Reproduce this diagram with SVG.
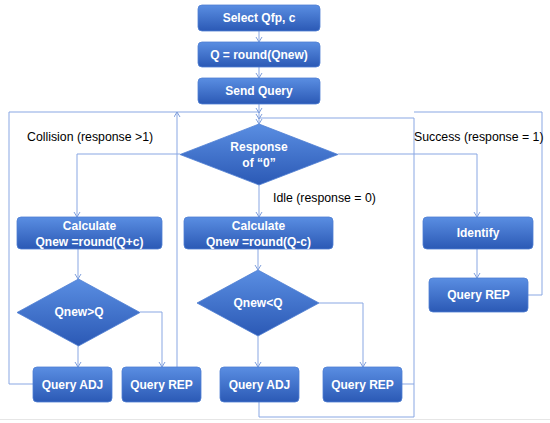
<svg xmlns="http://www.w3.org/2000/svg" width="550" height="423" viewBox="0 0 550 423">
<defs>
<linearGradient id="g" x1="0" y1="0" x2="0" y2="1">
<stop offset="0" stop-color="#5a8ee2"/>
<stop offset="1" stop-color="#2b59b5"/>
</linearGradient>
<marker id="a" markerUnits="userSpaceOnUse" markerWidth="8" markerHeight="8" refX="6" refY="3.5" orient="auto">
<path d="M1,0.5 L6,3.5 L1,6.5" fill="none" stroke="#7f9fdc" stroke-width="1"/>
</marker>
<style>
.b{fill:url(#g);stroke:#4f7fd3;stroke-width:0.8}
.t{fill:#fff;font-family:"Liberation Sans",Arial,sans-serif;font-size:12px;font-weight:bold;text-anchor:middle;dominant-baseline:central}
.l{fill:#000;font-family:"Liberation Sans",Arial,sans-serif;font-size:12.3px;dominant-baseline:central}
.c{fill:none;stroke:#89a7e3;stroke-width:1}
.c path.ar{marker-end:url(#a)}
</style>
</defs>
<rect width="550" height="423" fill="#fff"/>
<line x1="0" y1="419.5" x2="550" y2="419.5" stroke="#e6e6e6" stroke-width="1"/>

<g id="connectors" class="c">
<path class="ar" d="M259,31 V42"/>
<path class="ar" d="M259,67 V78"/>
<path class="ar" d="M259,104 V124"/>
<path class="ar" d="M33,384 H9 V112 H259 V113"/>
<path class="ar" d="M177,367 V112"/>
<path class="ar" d="M402,384 H414 V118 H259 V119"/>
<path d="M259,402 V417 H414 V384"/>
<path d="M528,295 H542 V112 H414"/>
<path class="ar" d="M180,154 H77 V217"/>
<path class="ar" d="M259,185 V217"/>
<path class="ar" d="M338,154 H477 V217"/>
<path class="ar" d="M477,249 V278"/>
<path class="ar" d="M78,249 V279"/>
<path class="ar" d="M78,346 V367"/>
<path class="ar" d="M140,312 H162 V367"/>
<path class="ar" d="M258,249 V270"/>
<path class="ar" d="M258,336 V367"/>
<path class="ar" d="M319,303 H363 V367"/>
</g>

<g id="select"><rect class="b" x="198" y="5" width="122" height="26" rx="4"/><text class="t" x="259" y="18">Select Qfp, c</text></g>
<g id="qround"><rect class="b" x="198" y="42" width="122" height="25" rx="4"/><text class="t" x="259" y="54.5">Q = round(Qnew)</text></g>
<g id="send"><rect class="b" x="198" y="78" width="122" height="26" rx="4"/><text class="t" x="259" y="91">Send Query</text></g>

<g id="response"><polygon class="b" points="259,124 338,154.5 259,185 180,154.5"/><text class="t" x="259" y="147">Response</text><text class="t" x="259" y="163">of “0”</text></g>

<g id="calc-left"><rect class="b" x="17" y="217" width="145" height="32" rx="4"/><text class="t" x="89.5" y="226">Calculate</text><text class="t" x="89.5" y="242">Qnew =round(Q+c)</text></g>
<g id="calc-mid"><rect class="b" x="184" y="217" width="149" height="32" rx="4"/><text class="t" x="258.5" y="226">Calculate</text><text class="t" x="258.5" y="242">Qnew =round(Q-c)</text></g>
<g id="identify"><rect class="b" x="423" y="217" width="110" height="32" rx="4"/><text class="t" x="478" y="233">Identify</text></g>

<g id="dia-left"><polygon class="b" points="78.5,279 140,312.5 78.5,346 17,312.5"/><text class="t" x="79" y="312">Qnew&gt;Q</text></g>
<g id="dia-mid"><polygon class="b" points="258,270 319,303 258,336 197,303"/><text class="t" x="258" y="303">Qnew&lt;Q</text></g>

<g id="rep-success"><rect class="b" x="429" y="278" width="99" height="34" rx="4"/><text class="t" x="478.5" y="295">Query REP</text></g>
<g id="adj-left"><rect class="b" x="33" y="367" width="79" height="35" rx="4"/><text class="t" x="72.5" y="384.5">Query ADJ</text></g>
<g id="rep-left"><rect class="b" x="122" y="367" width="79" height="35" rx="4"/><text class="t" x="161.5" y="384.5">Query REP</text></g>
<g id="adj-mid"><rect class="b" x="220" y="367" width="79" height="35" rx="4"/><text class="t" x="259.5" y="384.5">Query ADJ</text></g>
<g id="rep-mid"><rect class="b" x="323" y="367" width="79" height="35" rx="4"/><text class="t" x="362.5" y="384.5">Query REP</text></g>

<g id="labels">
<text class="l" x="27" y="137">Collision (response &gt;1)</text>
<text class="l" x="273" y="198">Idle (response = 0)</text>
<text class="l" x="414" y="137">Success (response = 1)</text>
</g>
</svg>
